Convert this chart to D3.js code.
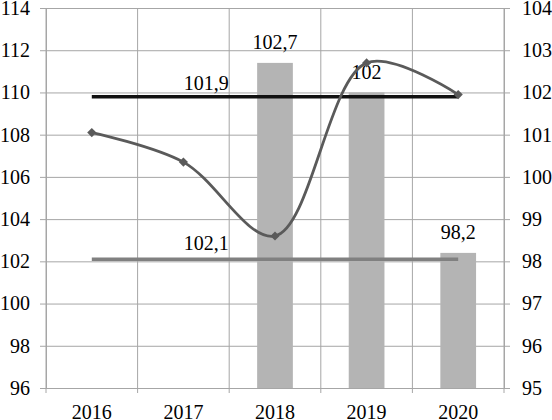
<!DOCTYPE html>
<html>
<head>
<meta charset="utf-8">
<script src="https://cdn.jsdelivr.net/npm/d3@7"></script>
<style>
  svg text { font-family: "Liberation Serif" !important; font-size: 20px !important; }
</style>
</head>
<body style="margin:0">
<script>
// values
const years = ['2016', '2017', '2018', '2019', '2020'];
const lineValues = [108.1, 106.7, 103.2, 111.4, 109.9];   // left axis, smooth line
const barValues = [null, null, 102.7, 102.0, 98.2];         // right axis, bars
const avgRight = 101.9;                                     // right axis, black line
const avgLeft = 102.1;                                      // left axis, grey line
const leftTicks = [96, 98, 100, 102, 104, 106, 108, 110, 112, 114];
const rightTicks = [95, 96, 97, 98, 99, 100, 101, 102, 103, 104];

const W = 552, H = 420;
const plot = { left: 46, right: 504, top: 8, bottom: 388 };

const fmt = v => String(v).replace('.', ',');

const svg = d3.select('body').append('svg')
  .attr('width', W)
  .attr('height', H)
  .attr('font-family', 'Liberation Serif')
  .style('display', 'block');

const x = d3.scaleBand().domain(years).range([plot.left, plot.right]).padding(0);
const yL = d3.scaleLinear().domain([96, 114]).range([plot.bottom, plot.top]);
const yR = d3.scaleLinear().domain([95, 104]).range([plot.bottom, plot.top]);
const cx = d => x(d) + x.bandwidth() / 2;

const gridColor = '#a6a6a6';

function setFont(sel) {
  sel.attr('font-family', 'Liberation Serif').attr('font-size', 20).attr('fill', '#000');
}

function styleAxis(g) {
  g.attr('font-family', 'Liberation Serif').attr('font-size', 20);
  g.select('.domain').attr('stroke', gridColor);
  g.selectAll('.tick line').attr('stroke', gridColor);
  g.selectAll('text').call(setFont);
}

// horizontal gridlines + left axis
const axL = svg.append('g')
  .attr('transform', `translate(${plot.left},0)`)
  .call(d3.axisLeft(yL).tickValues(leftTicks).tickSize(6).tickPadding(10))
  .call(styleAxis);
axL.selectAll('.tick line').attr('x1', -6).attr('x2', plot.right - plot.left);

// right axis
svg.append('g')
  .attr('transform', `translate(${plot.right},0)`)
  .call(d3.axisRight(yR).tickValues(rightTicks).tickSize(6).tickPadding(12))
  .call(styleAxis);

// vertical gridlines at category boundaries
const bounds = years.map(d => x(d)).concat([plot.right]);
svg.append('g').selectAll('line')
  .data(bounds)
  .enter().append('line')
  .attr('x1', d => d).attr('x2', d => d)
  .attr('y1', plot.top).attr('y2', plot.bottom + 5)
  .attr('stroke', gridColor);

// bottom axis labels
svg.append('g')
  .attr('transform', `translate(0,${plot.bottom})`)
  .call(d3.axisBottom(x).tickSize(0).tickPadding(17))
  .call(styleAxis);

// bars
const barData = years.map((d, i) => ({ year: d, v: barValues[i] })).filter(d => d.v != null);
const barW = x.bandwidth() * 0.39;
svg.append('g').selectAll('rect')
  .data(barData)
  .enter().append('rect')
  .attr('x', d => cx(d.year) - barW / 2)
  .attr('y', d => yR(d.v))
  .attr('width', barW)
  .attr('height', d => yR(95) - yR(d.v))
  .attr('fill', '#b4b4b4');

svg.append('g').selectAll('text')
  .data(barData)
  .enter().append('text')
  .attr('x', d => cx(d.year))
  .attr('y', d => yR(d.v) - 13.5)
  .attr('text-anchor', 'middle')
  .call(setFont)
  .text(d => fmt(d.v));

// average lines
const first = cx(years[0]), last = cx(years[years.length - 1]);
svg.append('line')
  .attr('x1', first).attr('x2', last)
  .attr('y1', yL(avgLeft)).attr('y2', yL(avgLeft))
  .attr('stroke', '#808080').attr('stroke-width', 3.5);
svg.append('line')
  .attr('x1', first).attr('x2', last)
  .attr('y1', yR(avgRight)).attr('y2', yR(avgRight))
  .attr('stroke', '#111').attr('stroke-width', 3.5);

const labelX = cx(years[1]) + x.bandwidth() * 0.25;
svg.append('text')
  .attr('x', labelX).attr('y', yR(avgRight) - 7)
  .attr('text-anchor', 'middle')
  .call(setFont)
  .text(fmt(avgRight));
svg.append('text')
  .attr('x', labelX).attr('y', yL(avgLeft) - 9)
  .attr('text-anchor', 'middle')
  .call(setFont)
  .text(fmt(avgLeft));

// smooth line with diamond markers
const pts = years.map((d, i) => [cx(d), yL(lineValues[i])]);
svg.append('path')
  .datum(pts)
  .attr('fill', 'none')
  .attr('stroke', '#5a5a5a')
  .attr('stroke-width', 2.8)
  .attr('d', d3.line().curve(d3.curveCatmullRom.alpha(0.5)));

svg.append('g').selectAll('path')
  .data(pts)
  .enter().append('path')
  .attr('transform', d => `translate(${d[0]},${d[1]}) rotate(45)`)
  .attr('d', d3.symbol().type(d3.symbolSquare).size(42))
  .attr('fill', '#5a5a5a');
</script>
</body>
</html>
